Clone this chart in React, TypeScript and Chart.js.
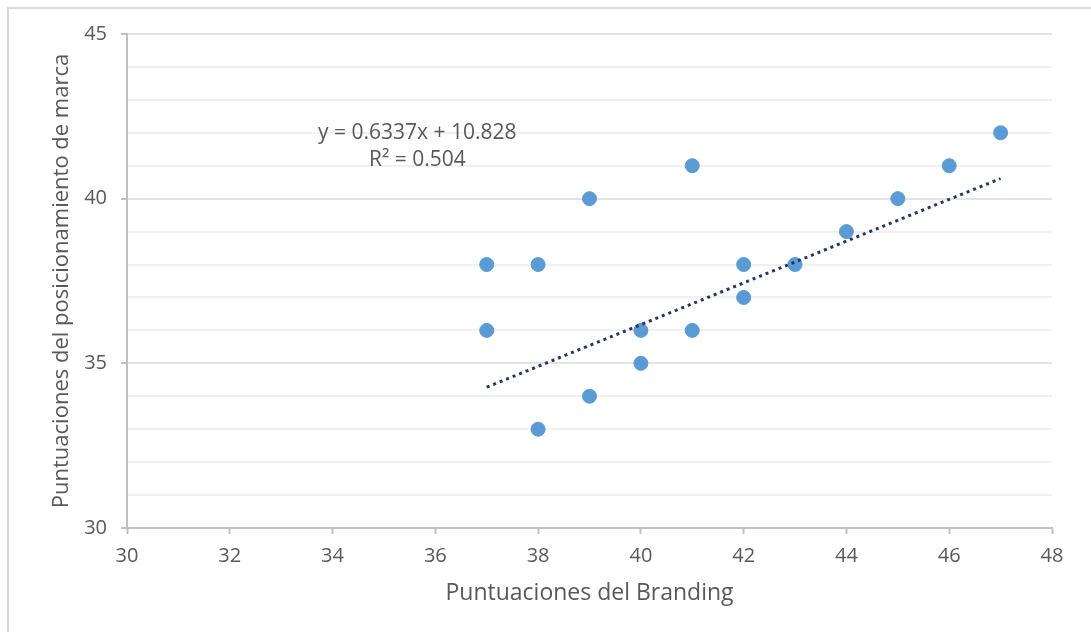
import React, { useEffect, useRef } from "react";
import { Chart, registerables } from "chart.js";

Chart.register(...registerables);

// Data
const brandingScores: number[] = [37, 37, 38, 38, 39, 39, 40, 40, 41, 41, 42, 42, 43, 44, 45, 46, 47];
const positioningScores: number[] = [38, 36, 38, 33, 40, 34, 36, 35, 41, 36, 38, 37, 38, 39, 40, 41, 42];

// Linear trendline (as printed on the chart)
const trendSlope = 0.6337;
const trendIntercept = 10.828;
const trendRange: number[] = [37, 47];
const equationLines: string[] = ["y = 0.6337x + 10.828", "R² = 0.504"];
const equationAnchor = { x: 35.65, y: 42 };

const xTitle = "Puntuaciones del Branding";
const yTitle = "Puntuaciones del posicionamiento de marca";

const TEXT = "#595959";
const AXIS = "#bfbfbf";
const FONT = "'Open Sans'";

export default function App() {
  const ref = useRef<HTMLCanvasElement>(null);

  useEffect(() => {
    if (!ref.current) return;

    const frame = {
      id: "frame",
      beforeDraw(chart: any) {
        const c = chart.ctx;
        c.save();
        c.fillStyle = "#ffffff";
        c.fillRect(0, 0, chart.width, chart.height);
        c.strokeStyle = "#d9d9d9";
        c.lineWidth = 2;
        c.beginPath();
        c.moveTo(8, chart.height);
        c.lineTo(8, 8);
        c.lineTo(chart.width, 8);
        c.stroke();
        c.restore();
      },
    };

    const equation = {
      id: "equation",
      afterDatasetsDraw(chart: any) {
        const c = chart.ctx;
        const xs = chart.scales.x;
        const ys = chart.scales.y;
        const cx = xs.getPixelForValue(equationAnchor.x);
        const cy = ys.getPixelForValue(equationAnchor.y);
        c.save();
        c.fillStyle = TEXT;
        c.font = `21px ${FONT}`;
        c.textAlign = "center";
        c.textBaseline = "middle";
        equationLines.forEach((t, i) => c.fillText(t, cx, cy + i * 27));
        c.restore();
      },
    };

    const chart = new Chart(ref.current, {
      type: "scatter",
      data: {
        datasets: [
          {
            label: "Puntuaciones",
            data: brandingScores.map((x, i) => ({ x, y: positioningScores[i] })),
            backgroundColor: "#5b9bd5",
            borderColor: "#5b9bd5",
            pointRadius: 7,
            pointHoverRadius: 7,
            order: 1,
          },
          {
            label: "Tendencia",
            type: "line",
            data: trendRange.map((x) => ({ x, y: trendSlope * x + trendIntercept })),
            borderColor: "#203864",
            borderWidth: 3,
            borderDash: [3, 4],
            pointRadius: 0,
            fill: false,
            order: 0,
          } as any,
        ],
      },
      options: {
        animation: false,
        responsive: false,
        maintainAspectRatio: false,
        layout: { padding: { left: 0, top: 34, right: 39, bottom: 0 } },
        plugins: { legend: { display: false }, tooltip: { enabled: false } },
        scales: {
          x: {
            type: "linear",
            min: 30,
            max: 48,
            afterFit(scale: any) {
              scale.height = 104;
            },
            ticks: {
              stepSize: 2,
              color: TEXT,
              font: { family: FONT, size: 20 },
              padding: 10,
            },
            grid: {
              drawOnChartArea: false,
              drawTicks: true,
              tickLength: 6,
              tickColor: AXIS,
              tickWidth: 2,
            },
            border: { color: AXIS, width: 2 },
            title: {
              display: true,
              text: xTitle,
              color: TEXT,
              font: { family: FONT, size: 23 },
              padding: { top: 0, bottom: 25 },
            },
          },
          y: {
            type: "linear",
            min: 30,
            max: 45,
            afterFit(scale: any) {
              scale.width = 127;
            },
            ticks: {
              stepSize: 1,
              color: TEXT,
              font: { family: FONT, size: 20 },
              padding: 14,
              callback: (v: any) => (Number(v) % 5 === 0 ? String(v) : ""),
            },
            grid: {
              color: (ctx: any) => (ctx.tick && ctx.tick.value % 5 === 0 ? "#e3e3e3" : "#f0f0f0"),
              lineWidth: 2,
              drawTicks: true,
              tickLength: 6,
              tickColor: (ctx: any) => (ctx.tick && ctx.tick.value % 5 === 0 ? AXIS : "rgba(0,0,0,0)"),
              tickWidth: 2,
            },
            border: { color: AXIS, width: 2 },
            title: {
              display: true,
              text: yTitle,
              color: TEXT,
              font: { family: FONT, size: 22 },
              padding: { top: 49, bottom: 0 },
            },
          },
        },
      },
      plugins: [frame, equation],
    });

    return () => chart.destroy();
  }, []);

  return (
    <div style={{ position: "absolute", left: 0, top: 0, width: 1091, height: 632 }}>
      <canvas ref={ref} width={1091} height={632} style={{ width: 1091, height: 632 }} />
    </div>
  );
}
